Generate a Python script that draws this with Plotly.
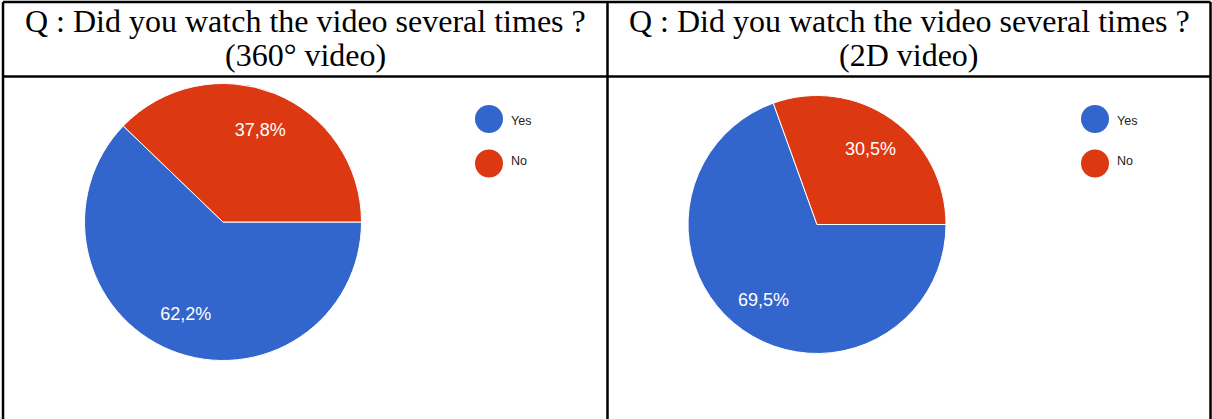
import plotly.graph_objects as go

W, H = 1212, 419

labels = ["Yes", "No"]
values_360 = [62.2, 37.8]
values_2d = [69.5, 30.5]
colors = ["#3366cc", "#dc3912"]
titles_360 = ["Q : Did you watch the video several times ?", "(360° video)"]
titles_2d = ["Q : Did you watch the video several times ?", "(2D video)"]


def px(x):
    return x / W


def py(y):
    return 1 - y / H


fig = go.Figure()


def add_pie(vals, cx, cy, r):
    dom = dict(x=[px(cx - r), px(cx + r)], y=[py(cy + r), py(cy - r)])
    common = dict(labels=labels, values=vals, sort=False, direction="clockwise", rotation=90,
                  showlegend=False, domain=dom)
    # full pie (no text)
    fig.add_trace(go.Pie(textinfo="none", hoverinfo="label+percent",
                         marker=dict(colors=colors, line=dict(color="white", width=1)), **common))
    # transparent ring on top carrying the labels (places text at ~72% of radius)
    fig.add_trace(go.Pie(hole=0.44, texttemplate="%{percent:.1%}", textposition="inside",
                         insidetextorientation="horizontal", hoverinfo="skip",
                         marker=dict(colors=["rgba(0,0,0,0)"] * len(vals), line=dict(width=0)),
                         textfont=dict(color="white", size=18, family="Liberation Sans"),
                         **common))


add_pie(values_360, 223, 222, 138.5)
add_pie(values_2d, 817, 224.5, 129)

shapes = []
line = dict(color="black", width=2.5)
for x0, y0, x1, y1 in [(3, 2, 1210.5, 2), (3, 76.5, 1210.5, 76.5), (3, 2, 3, 419),
                       (607.5, 2, 607.5, 419), (1210.5, 2, 1210.5, 419)]:
    shapes.append(dict(type="line", xref="paper", yref="paper",
                       x0=px(x0), y0=py(y0), x1=px(x1), y1=py(y1), line=line))

annotations = []
for cx, texts in [(305, titles_360), (909, titles_2d)]:
    for i, t in enumerate(texts):
        annotations.append(dict(text=t, x=px(cx), y=py(21 + i * 34), xref="paper", yref="paper",
                                showarrow=False, xanchor="center", yanchor="middle",
                                font=dict(family="Liberation Serif", size=32, color="black")))

# legends (Google-style circles)
for lx in [489, 1095]:
    for i, (lab, col) in enumerate(zip(labels, colors)):
        cy = 119 + i * 44.5
        shapes.append(dict(type="circle", xref="paper", yref="paper",
                           x0=px(lx - 14), x1=px(lx + 14), y0=py(cy + 14), y1=py(cy - 14),
                           fillcolor=col, line=dict(width=0)))
        annotations.append(dict(text=lab, x=px(lx + 20), y=py(cy + 2 - i * 5), xref="paper", yref="paper",
                                showarrow=False, xanchor="left", yanchor="middle",
                                font=dict(family="Liberation Sans", size=12.5, color="#222222")))

fig.update_layout(
    width=W, height=H, margin=dict(l=0, r=0, t=0, b=0),
    paper_bgcolor="white", plot_bgcolor="white",
    separators=",.", shapes=shapes, annotations=annotations,
)

fig.write_html("out.html", config={"displayModeBar": False},
               post_script="document.body.style.margin='0';document.body.style.overflow='hidden';")
